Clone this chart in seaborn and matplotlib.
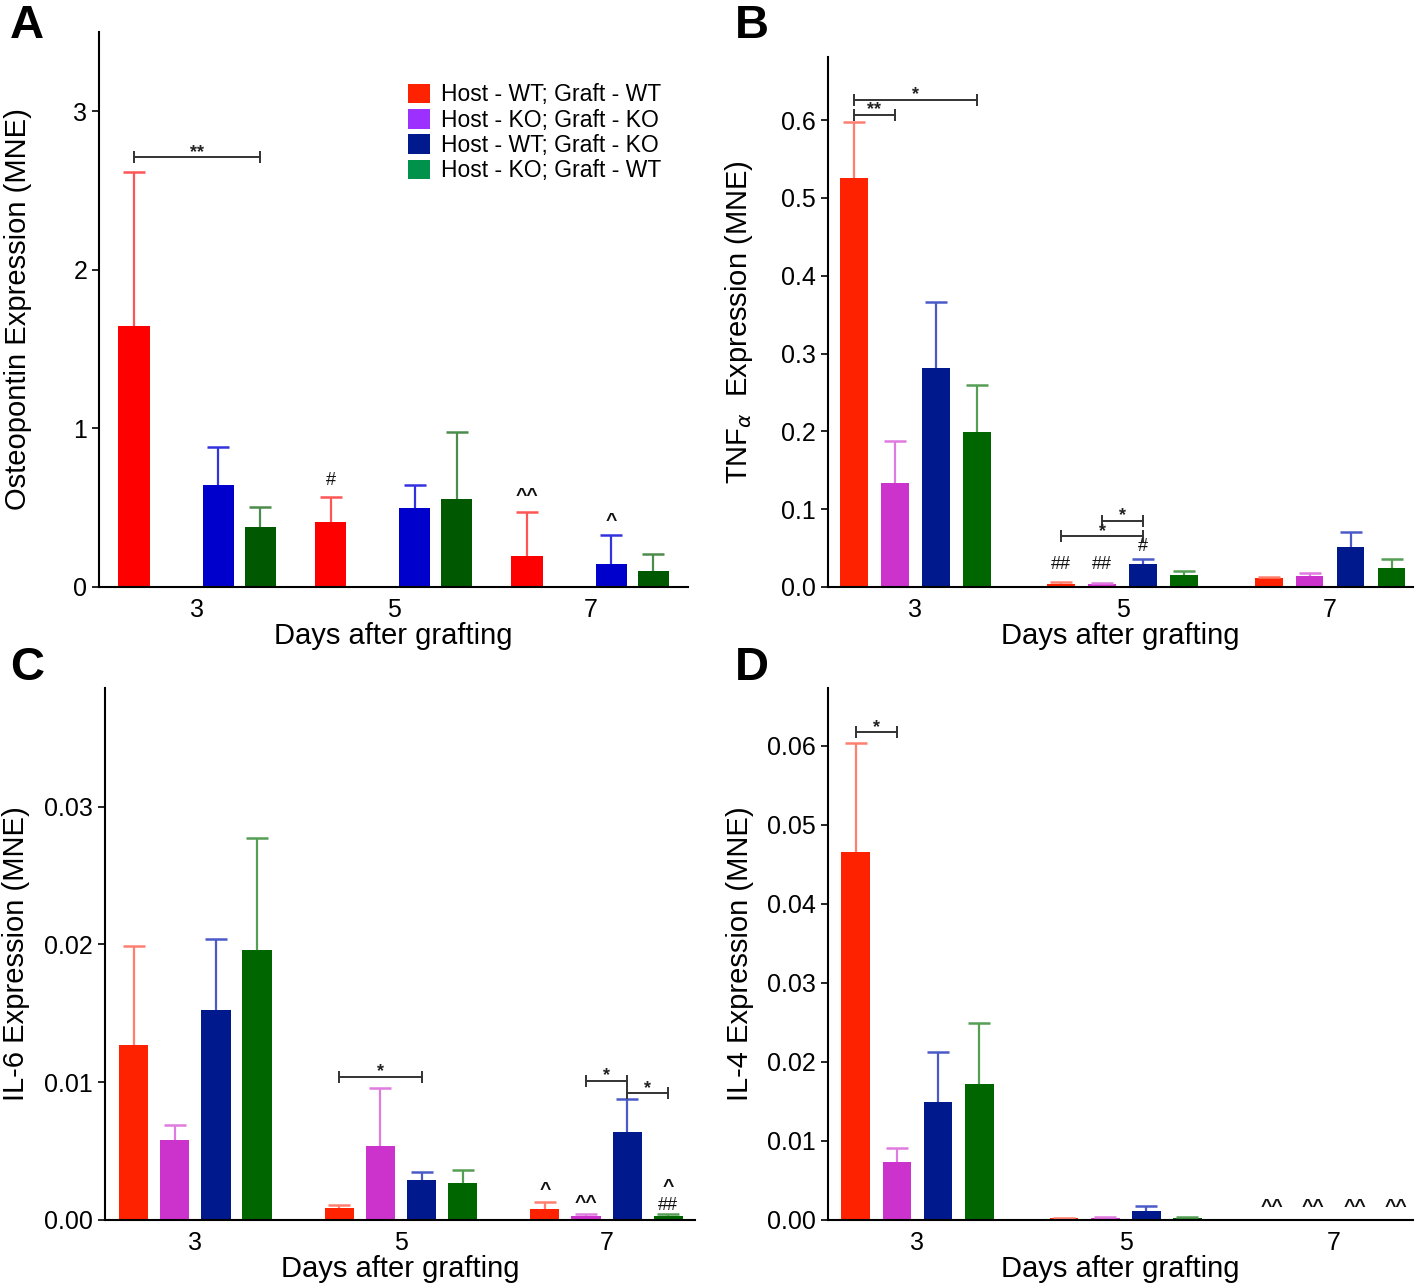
import numpy as np
import pandas as pd
import matplotlib
matplotlib.use("Agg")
import matplotlib.pyplot as plt
from matplotlib.patches import Patch
from matplotlib.ticker import FormatStrFormatter
import seaborn as sns

sns.set_style("ticks")
plt.rcParams['font.family'] = ['Liberation Sans', 'DejaVu Sans']
plt.rcParams.update({"text.color": "black", "axes.labelcolor": "black",
                     "xtick.color": "black", "ytick.color": "black"})

days = ["3", "5", "7"]
groups = ["Host - WT; Graft - WT", "Host - KO; Graft - KO",
          "Host - WT; Graft - KO", "Host - KO; Graft - WT"]

# Panel A: Osteopontin (means, SEM) per group over days 3,5,7
opn_mean = [[1.645, 0.41, 0.195], [0.0, 0.0, 0.0], [0.643, 0.50, 0.145], [0.378, 0.555, 0.10]]
opn_sem = [[0.97, 0.155, 0.275], [0.0, 0.0, 0.0], [0.24, 0.143, 0.185], [0.125, 0.425, 0.108]]
# Panel B: TNF-alpha
tnf_mean = [[0.526, 0.004, 0.012], [0.134, 0.004, 0.014], [0.281, 0.030, 0.051], [0.199, 0.015, 0.024]]
tnf_sem = [[0.072, 0.002, 0.001], [0.054, 0.001, 0.004], [0.085, 0.006, 0.020], [0.061, 0.005, 0.012]]
# Panel C: IL-6
il6_mean = [[0.0127, 0.0009, 0.0008], [0.0058, 0.0054, 0.0003], [0.0152, 0.0029, 0.0064], [0.0196, 0.0027, 0.0003]]
il6_sem = [[0.0072, 0.0002, 0.0005], [0.0011, 0.0042, 0.0001], [0.0052, 0.0006, 0.0024], [0.0081, 0.0009, 0.0001]]
# Panel D: IL-4
il4_mean = [[0.0466, 0.0002, 0.0], [0.0073, 0.0002, 0.0], [0.0149, 0.0011, 0.0001], [0.0172, 0.0002, 0.0]]
il4_sem = [[0.0138, 0.0001, 0.0], [0.0018, 0.0002, 0.0], [0.0064, 0.0007, 0.0], [0.0077, 0.0002, 0.0]]

colors_a = ["#FF0000", "#9B30FF", "#0000CC", "#005800"]
err_a = ["#FF5555", "#B070FF", "#3333DD", "#4C8C4C"]
colors = ["#FF2200", "#CC33CC", "#001A8E", "#006600"]
err_c = ["#FF7F6F", "#E07BE0", "#4A5AC8", "#559F55"]
legend_colors = ["#FF2200", "#9B30FF", "#001A8E", "#00914A"]

fig = plt.figure(figsize=(14.18, 12.85), dpi=100)
axA = fig.add_axes([0.0698, 0.5432, 0.4157, 0.4320])
axB = fig.add_axes([0.5839, 0.5432, 0.4126, 0.4124])
axC = fig.add_axes([0.0740, 0.0506, 0.4161, 0.4140])
axD = fig.add_axes([0.5839, 0.0506, 0.4126, 0.4140])

TICK_FS = 18
LAB_FS = 21
BARS = {}


def make_df(mean):
    rows = []
    for g, vals in zip(groups, mean):
        for d, v in zip(days, vals):
            rows.append({"day": d, "group": g, "value": v})
    return pd.DataFrame(rows)


def panel(ax, mean, sem, pal, epal, width, gap, ylim, yticks, fmt, ylabel, xlim, labx):
    df = make_df(mean)
    sns.barplot(data=df, x="day", y="value", hue="group", hue_order=groups,
                order=days, palette=pal, width=width, gap=gap, errorbar=None,
                legend=False, ax=ax, saturation=1, edgecolor="none")
    conts = list(ax.containers)
    BARS[id(ax)] = conts
    for i, cont in enumerate(conts):
        for j, bar in enumerate(cont):
            e = sem[i][j]
            if e <= 0:
                continue
            x = bar.get_x() + bar.get_width() / 2
            h = bar.get_height()
            ax.errorbar(x, h, yerr=[[0], [e]], fmt="none", ecolor=epal[i],
                        elinewidth=1.6, capsize=0, zorder=1)
            ax.plot([x], [h + e], marker="_", ms=16, mew=1.8, color=epal[i], zorder=1)
    ax.set_ylim(*ylim)
    ax.set_xlim(*xlim)
    ax.set_yticks(yticks)
    ax.yaxis.set_major_formatter(FormatStrFormatter(fmt))
    ax.tick_params(axis="y", labelsize=TICK_FS, length=5, width=1.2, direction="out")
    ax.tick_params(axis="x", labelsize=TICK_FS, length=0, pad=8)
    ax.set_xlabel("Days after grafting", fontsize=LAB_FS, labelpad=0)
    ax.set_ylabel(ylabel, fontsize=LAB_FS)
    ax.yaxis.set_label_coords(labx, 0.5)
    sns.despine(ax=ax)
    for s in ["left", "bottom"]:
        ax.spines[s].set_linewidth(1.5)
        ax.spines[s].set_color("black")
    return ax


def center(ax, g, d):
    bar = BARS[id(ax)][g][d]
    return bar.get_x() + bar.get_width() / 2


def bracket(ax, g1, d1, g2, d2, y, text):
    x1, x2 = center(ax, g1, d1), center(ax, g2, d2)
    ax.plot([x1, x2], [y, y], color="#333333", lw=1.4)
    ax.plot([x1, x2], [y, y], ls="none", marker="|", ms=8, mew=1.4, color="#333333")
    ax.annotate(text, xy=((x1 + x2) / 2, y), xytext=(0, -2.5), textcoords="offset points",
                ha="center", va="bottom", fontsize=13, fontweight="bold", color="#222222")


def mark(ax, g, d, y, text, size=14, bold=True):
    ax.text(center(ax, g, d), y, text, ha="center", va="bottom", fontsize=size,
            fontweight="bold" if bold else "normal", color="#111111")


panel(axA, opn_mean, opn_sem, colors_a, err_a, 0.857, 0.26, (0, 3.5), [0, 1, 2, 3], "%d",
      "Osteopontin Expression (MNE)", (-0.5, 2.5), -0.114)
panel(axB, tnf_mean, tnf_sem, colors, err_c, 0.79, 0.32, (0, 0.681),
      [0.0, 0.1, 0.2, 0.3, 0.4, 0.5, 0.6], "%.1f",
      r"TNF$_{\alpha}$  Expression (MNE)", (-0.42, 2.4), -0.124)
panel(axC, il6_mean, il6_sem, colors, err_c, 0.80, 0.29, (0, 0.0386),
      [0.0, 0.01, 0.02, 0.03], "%.2f", "IL-6 Expression (MNE)", (-0.44, 2.43), -0.127)
panel(axD, il4_mean, il4_sem, colors, err_c, 0.79, 0.30, (0, 0.0673),
      [0.0, 0.01, 0.02, 0.03, 0.04, 0.05, 0.06], "%.2f", "IL-4 Expression (MNE)",
      (-0.43, 2.38), -0.126)

# Panel A annotations
bracket(axA, 0, 0, 3, 0, 2.71, "**")
mark(axA, 0, 1, 0.62, "#", 13, False)
mark(axA, 0, 2, 0.52, "^^")
mark(axA, 2, 2, 0.36, "^")

# Panel B annotations
bracket(axB, 0, 0, 1, 0, 0.607, "**")
bracket(axB, 0, 0, 3, 0, 0.626, "*")
bracket(axB, 0, 1, 2, 1, 0.065, "*")
bracket(axB, 1, 1, 2, 1, 0.085, "*")
mark(axB, 0, 1, 0.018, "##", 13, False)
mark(axB, 1, 1, 0.018, "##", 13, False)
mark(axB, 2, 1, 0.041, "#", 13, False)

# Panel C annotations
bracket(axC, 0, 1, 2, 1, 0.0104, "*")
bracket(axC, 1, 2, 2, 2, 0.0101, "*")
bracket(axC, 2, 2, 3, 2, 0.0092, "*")
mark(axC, 0, 2, 0.0015, "^")
mark(axC, 1, 2, 0.0006, "^^")
mark(axC, 3, 2, 0.0004, "##", 13, False)
mark(axC, 3, 2, 0.00175, "^")

# Panel D annotations
bracket(axD, 0, 0, 1, 0, 0.0617, "*")
for g in range(4):
    mark(axD, g, 2, 0.0005, "^^")

# Legend (panel A)
handles = [Patch(facecolor=c, edgecolor="none") for c in legend_colors]
axA.legend(handles, groups, loc="upper left", bbox_to_anchor=(0.525, 0.907),
           frameon=False, fontsize=16.5, handlelength=0.95, handleheight=0.95,
           handletextpad=0.45, labelspacing=0.1, borderpad=0, borderaxespad=0)

# Panel letters
for lbl, x, y in [("A", 0.007, 0.997), ("B", 0.518, 0.997), ("C", 0.007, 0.497), ("D", 0.518, 0.497)]:
    fig.text(x, y, lbl, fontsize=34, fontweight="bold", ha="left", va="top")

fig.savefig("out.png", dpi=100)
